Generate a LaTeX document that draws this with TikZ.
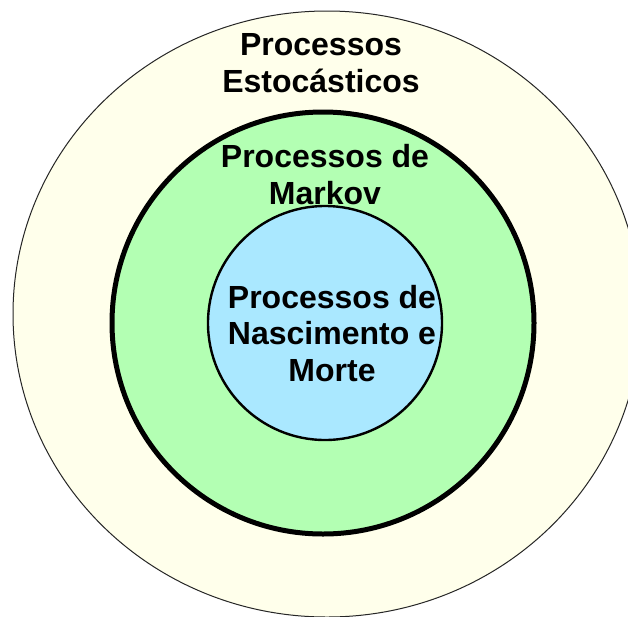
\documentclass[tikz,border=0pt]{standalone}
\usepackage{fontspec}
\setmainfont{Liberation Sans}
\definecolor{ivoryfill}{HTML}{FFFFEB}
\definecolor{greenfill}{HTML}{B3FFB3}
\definecolor{bluefill}{HTML}{AAE8FF}
\tikzset{
  lbl/.style={font=\fontsize{32}{36.5}\selectfont\bfseries, align=center, inner sep=0pt, anchor=base},
}
\begin{document}
\begin{tikzpicture}[x=1pt,y=-1pt]
\useasboundingbox (0,0) rectangle (628,616);
\clip (0,0) rectangle (628,616);
\fill[white] (0,0) rectangle (628,616);
\draw[fill=ivoryfill, draw=black!85, line width=1pt] (327,314) ellipse [x radius=314, y radius=303];
\draw[fill=greenfill, draw=black, line width=5pt] (323,323) circle [radius=211];
\draw[fill=bluefill, draw=black, line width=2.4pt] (325,323) circle [radius=117];
\node[lbl] (outerlbl) at (321,92) {Processos\\Estocásticos};
\node[lbl] (midlbl) at (325,204) {Processos de\\Markov};
\node[lbl] (innerlbl) at (332,381) {Processos de\\Nascimento e\\Morte};
\end{tikzpicture}
\end{document}
